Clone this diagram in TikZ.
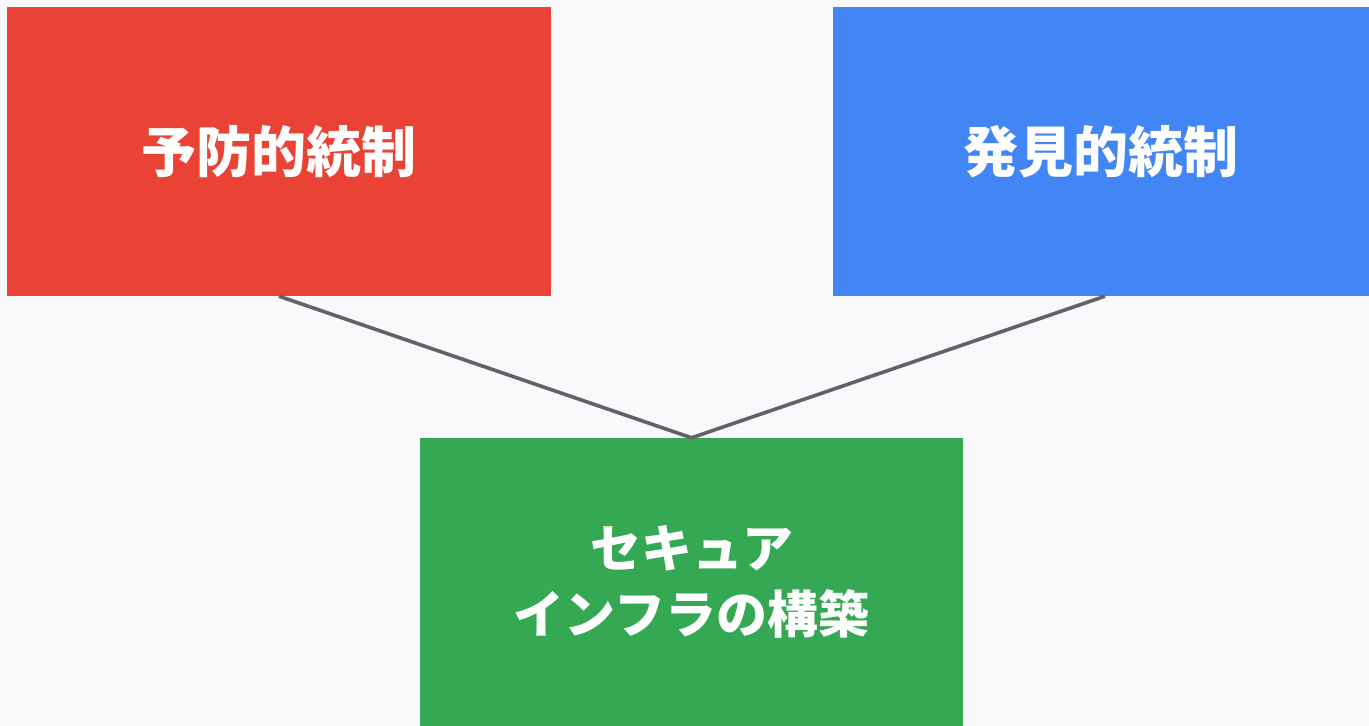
\documentclass[tikz,border=0pt]{standalone}
\usepackage{fontspec}
\newfontfamily\cjk{Noto Sans CJK JP}
\definecolor{bg}{HTML}{F8F9FA}
\definecolor{cred}{HTML}{EA4335}
\definecolor{cblue}{HTML}{4285F4}
\definecolor{cgreen}{HTML}{34A853}
\definecolor{cline}{HTML}{5F6368}
\tikzset{
  box/.style={draw=none, inner sep=0pt, text=white, align=center,
    font=\cjk\bfseries\fontsize{55}{66}\selectfont},
  link/.style={draw=cline, line width=3.6pt}
}
\begin{document}
\begin{tikzpicture}[x=1pt,y=-1pt]
\fill[bg] (0,0) rectangle (1369,726);
\useasboundingbox (0,0) rectangle (1369,726);
\node[box, fill=cred, minimum width=544pt, minimum height=289pt] (pre) at (279,151.5) {予防的統制};
\node[box, fill=cblue, minimum width=536pt, minimum height=289pt] (det) at (1101,151.5) {発見的統制};
\node[box, fill=cgreen, minimum width=543pt, minimum height=288pt,
  font=\cjk\bfseries\fontsize{51}{66}\selectfont] (sec) at (691.5,582) {セキュア\\インフラの構築};
\draw[link] (pre.south) -- (sec.north);
\draw[link] ([xshift=4pt]det.south) -- (sec.north);
\end{tikzpicture}
\end{document}
